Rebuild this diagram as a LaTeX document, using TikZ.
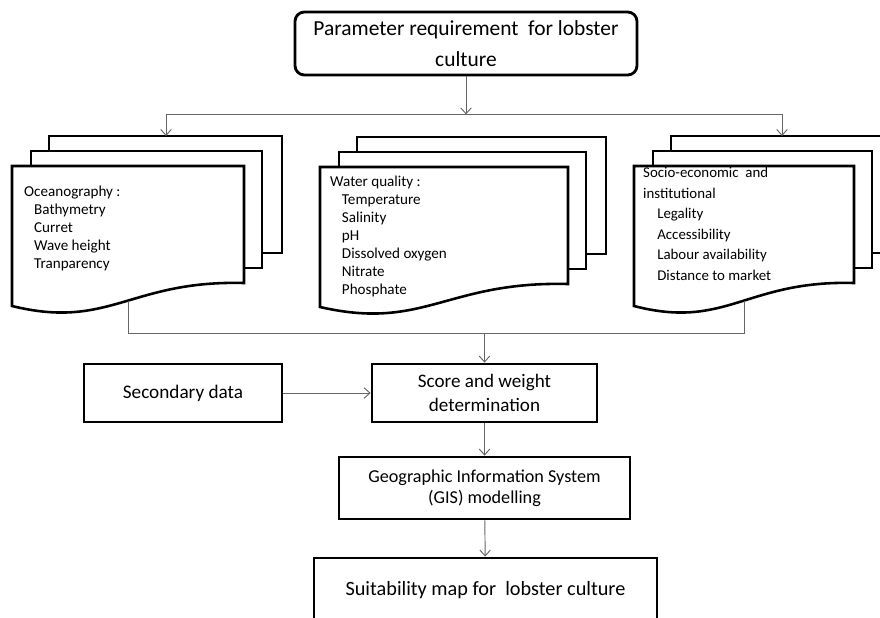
\documentclass[tikz,border=0pt]{standalone}
\usepackage{fontspec}
\setmainfont{Carlito}
\usetikzlibrary{positioning, calc, arrows.meta}
\colorlet{link color}{black!60}
\tikzset{box/.style={draw, line width=2.4pt, fill=white, inner sep=0pt, align=center}}
\tikzset{page/.style={draw, line width=2.2pt, fill=white}}
\tikzset{link/.style={draw=link color, line width=0.8pt}}
\tikzset{tip/.style={-{Straight Barb[length=5pt, width=9pt]}}}
\tikzset{listtext/.style={inner sep=0pt, anchor=north west, align=left, font={\fontsize{12.9}{15.3}\selectfont}}}

\begin{document}
\begin{tikzpicture}[x=0.03cm, y=-0.03cm]
                \clip (0,0) rectangle (880,617);

                % three stacks of pages
                \foreach \n/\x/\y/\w in {ocean/12/166/232, water/320/167/248, socio/634/166/220} {
                    \draw[page] (\x+37,\y-30) rectangle (\x+\w+38,\y+87);
                    \draw[page] (\x+19,\y-15) rectangle (\x+\w+18,\y+102);
                    \draw[page] (\x,\y) -- (\x,\y+140) .. controls (\x+0.42*\w,\y+164) and (\x+0.51*\w,\y+114) .. (\x+\w,\y+117) -- (\x+\w,\y) -- cycle;
                    \coordinate (\n-in) at (\x+0.5*\w+38,\y-30);
                    \coordinate (\n-out) at (\x+0.5*\w,\y+135);
                }

                \node[listtext] (oceantxt) at (24,186) {Oceanography :\\\hspace*{8.5pt}Bathymetry\\\hspace*{8.5pt}Curret\\\hspace*{8.5pt}Wave height\\\hspace*{8.5pt}Tranparency};
                \node[listtext] (watertxt) at (330,176) {Water quality :\\\hspace*{10pt}Temperature\\\hspace*{10pt}Salinity\\\hspace*{10pt}pH\\\hspace*{10pt}Dissolved oxygen\\\hspace*{10pt}Nitrate\\\hspace*{10pt}Phosphate};
                \node[listtext, font={\fontsize{12.7}{17.5}\selectfont}] (sociotxt) at (643,167) {Socio-economic~ and\\institutional\\\hspace*{12pt}Legality\\\hspace*{12pt}Accessibility\\\hspace*{12pt}Labour availability\\\hspace*{12pt}Distance to market};

                \node[box, rounded corners=8pt, minimum width=10.26cm, minimum height=1.89cm, font={\fontsize{18.3}{26}\selectfont}] (param) at (466,43.5) {Parameter requirement~ for lobster\\culture};
                \node[box, minimum width=5.94cm, minimum height=1.74cm, font={\fontsize{16.4}{20}\selectfont}] (secondary) at (183,393) {Secondary data};
                \node[box, minimum width=6.75cm, minimum height=1.74cm, font={\fontsize{16.3}{20}\selectfont}] (score) at (484.5,393) {Score and weight\\determination};
                \node[box, minimum width=8.73cm, minimum height=1.86cm, font={\fontsize{15.5}{18}\selectfont}] (gis) at (484.5,488) {Geographic Information System\\(GIS) modelling};
                \node[box, minimum width=10.29cm, minimum height=1.92cm, font={\fontsize{17.3}{20}\selectfont}] (suit) at (485.5,590) {Suitability map for~ lobster culture};

                % connectors
                \coordinate (split) at ($(param.south)+(0,38)$);
                \draw[link, tip] (param.south) -- (split);
                \draw[link, tip] (split) -| (ocean-in);
                \draw[link, tip] (split) -| (socio-in);

                \coordinate (merge) at ($(score.north)+(0,-29)$);
                \draw[link] (ocean-out) |- (merge) -| (socio-out);
                \draw[link, tip] (merge) -- (score.north);
                \draw[link, tip] (secondary) -- (score);
                \draw[link, tip] (score) -- (gis);
                \draw[link, tip] (gis) -- (suit);
            \end{tikzpicture}
\end{document}
